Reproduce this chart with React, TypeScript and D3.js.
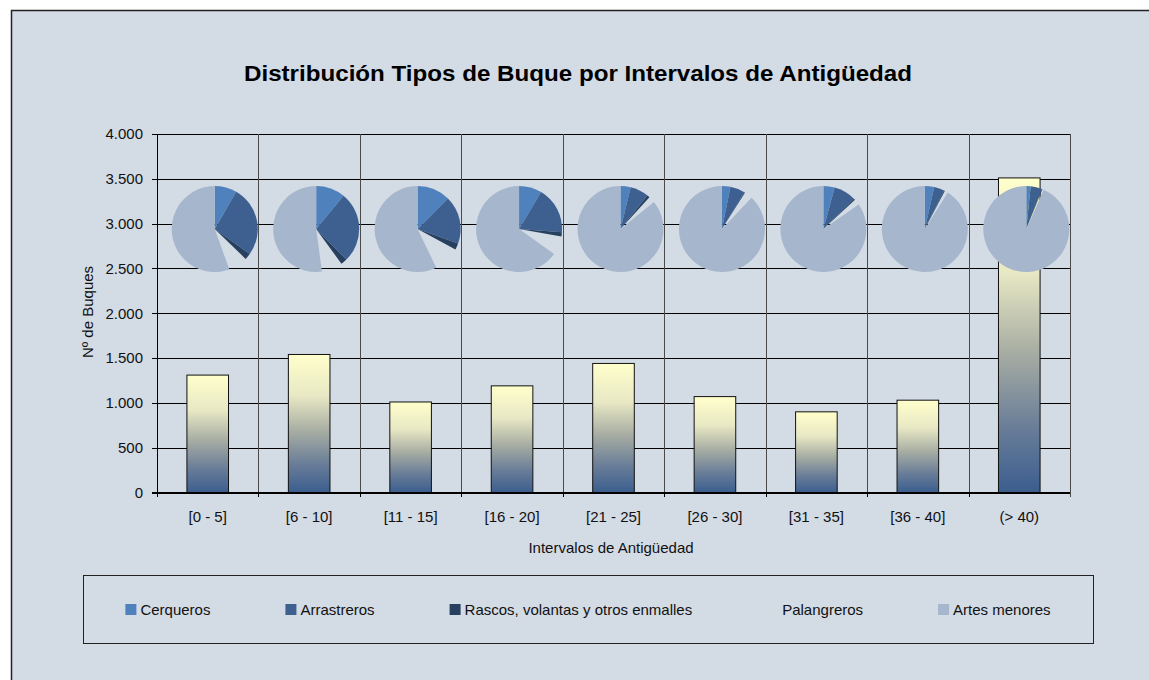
import { useMemo } from "react";
import * as d3 from "d3";

const categories = ["[0 - 5]", "[6 - 10]", "[11 - 15]", "[16 - 20]", "[21 - 25]", "[26 - 30]", "[31 - 35]", "[36 - 40]", "(> 40)"];
const totals = [1310, 1540, 1010, 1190, 1440, 1070, 900, 1030, 3510];

const types = ["Cerqueros", "Arrastreros", "Rascos, volantas y otros enmalles", "Palangreros", "Artes menores"];
const cerqueros = [109, 169, 126, 102, 55, 34, 38, 36, 57];
const arrastreros = [348, 410, 182, 210, 100, 59, 75, 40, 151];
const rascos = [31, 37, 24, 18, 14, 3, 5, 3, 7];
const palangreros = [95, 121, 101, 84, 35, 33, 20, 13, 17];
const artesMenores = [728, 803, 577, 775, 1236, 940, 762, 938, 3279];

const yTicks = [0, 500, 1000, 1500, 2000, 2500, 3000, 3500, 4000];

const typeColors = ["#4F81BD", "#3D6090", "#27405F", "none", "#A6B6CC"];

const W = 1149;
const H = 680;
const FONT = "'Liberation Sans', Arial, sans-serif";
const BG = "#D3DBE5";

const fmt = (v: number) => d3.format(",")(v).replace(/,/g, ".");

export default function App() {
  const x = d3.scaleBand<string>().domain(categories).range([157, 1070]);
  const y = d3.scaleLinear().domain([0, 4000]).range([492.5, 134]);
  const bw = x.bandwidth();
  const barW = bw * 0.41;

  const pie = d3.pie<number>().sort(null).value((d) => d);
  const arc = d3.arc<d3.PieArcDatum<number>>().innerRadius(0).outerRadius(43);
  const series = [cerqueros, arrastreros, rascos, palangreros, artesMenores];

  // legend layout: measure text, center items in the box
  const legend = useMemo(() => {
    const ctx = document.createElement("canvas").getContext("2d")!;
    ctx.font = `15px ${FONT}`;
    const widths = types.map((t) => 15 + ctx.measureText(t).width);
    const gap = 75;
    const total = d3.sum(widths) + gap * (types.length - 1);
    let cur = 588 - total / 2;
    return types.map((t, i) => {
      const pos = cur;
      cur += widths[i] + gap;
      return { t, x: pos };
    });
  }, []);

  return (
    <div style={{ position: "fixed", left: 0, top: 0, width: W, height: H, overflow: "hidden" }}>
      <svg width={W} height={H} style={{ display: "block" }} fontFamily={FONT}>
        <defs>
          <linearGradient id="barGrad" x1="0" y1="0" x2="0" y2="1">
            <stop offset="0" stopColor="#FFFFCC" />
            <stop offset="0.3" stopColor="#E8E8C4" />
            <stop offset="0.55" stopColor="#A8AEA3" />
            <stop offset="0.8" stopColor="#687C98" />
            <stop offset="1" stopColor="#3B5E8E" />
          </linearGradient>
        </defs>
        <rect x={0} y={0} width={W} height={H} fill="#fff" />
        <rect x={11} y={10} width={W} height={H} fill={BG} />
        <path d={`M11.5,${H}V10.5H${W}`} fill="none" stroke="#222" strokeWidth={1.5} />

        <text x={578} y={81} textAnchor="middle" fontSize={22} fontWeight="bold" textLength={668} lengthAdjust="spacingAndGlyphs">
          Distribución Tipos de Buque por Intervalos de Antigüedad
        </text>

        {/* horizontal gridlines + y ticks */}
        {yTicks.map((t) => (
          <g key={t}>
            <line x1={152} x2={1070} y1={Math.round(y(t)) + 0.5} y2={Math.round(y(t)) + 0.5} stroke="#000" strokeWidth={1} />
            <text x={143} y={y(t)} dy="0.36em" textAnchor="end" fontSize={15} fill="#111">
              {fmt(t)}
            </text>
          </g>
        ))}

        {/* vertical gridlines at category boundaries */}
        {categories.map((c) => (
          <line key={c} x1={Math.round(x(c)! + bw) + 0.5} x2={Math.round(x(c)! + bw) + 0.5} y1={134} y2={497} stroke="#4a4a4a" strokeWidth={1} />
        ))}
        <line x1={157.5} x2={157.5} y1={134} y2={493} stroke="#000" />
        {categories.map((c) => (
          <line key={c + "t"} x1={Math.round(x(c)!) + 0.5} x2={Math.round(x(c)!) + 0.5} y1={492} y2={497} stroke="#000" />
        ))}

        {/* bars */}
        {categories.map((c, i) => (
          <rect
            key={c + "b"}
            x={x(c)! + (bw - barW) / 2}
            y={y(totals[i])}
            width={barW}
            height={y(0) - y(totals[i])}
            fill="url(#barGrad)"
            stroke="#111"
            strokeWidth={1}
          />
        ))}
        <line x1={152} x2={1070} y1={492.5} y2={492.5} stroke="#000" />

        {/* pies */}
        {categories.map((c, i) => {
          const arcs = pie(series.map((s) => s[i]));
          return (
            <g key={c + "p"} transform={`translate(${x(c)! + bw / 2 + 7},${y(2940)})`}>
              {arcs.map((a, j) => (
                <path key={j} d={arc(a)!} fill={typeColors[j]} />
              ))}
            </g>
          );
        })}

        {/* x labels */}
        {categories.map((c) => (
          <text key={c + "l"} x={x(c)! + bw / 2} y={522} textAnchor="middle" fontSize={15} fill="#111">
            {c}
          </text>
        ))}
        <text x={611} y={553} textAnchor="middle" fontSize={15} fill="#111">
          Intervalos de Antigüedad
        </text>
        <text transform="translate(93,312) rotate(-90)" textAnchor="middle" fontSize={15} fill="#111">
          Nº de Buques
        </text>

        {/* legend */}
        <rect x={83.5} y={575.5} width={1010} height={68} fill="none" stroke="#222" strokeWidth={1} />
        {legend.map((l, i) => (
          <g key={l.t}>
            <rect x={l.x} y={604} width={11} height={11} fill={typeColors[i]} />
            <text x={l.x + 15} y={614.5} fontSize={15} fill="#111">
              {l.t}
            </text>
          </g>
        ))}
      </svg>
    </div>
  );
}
